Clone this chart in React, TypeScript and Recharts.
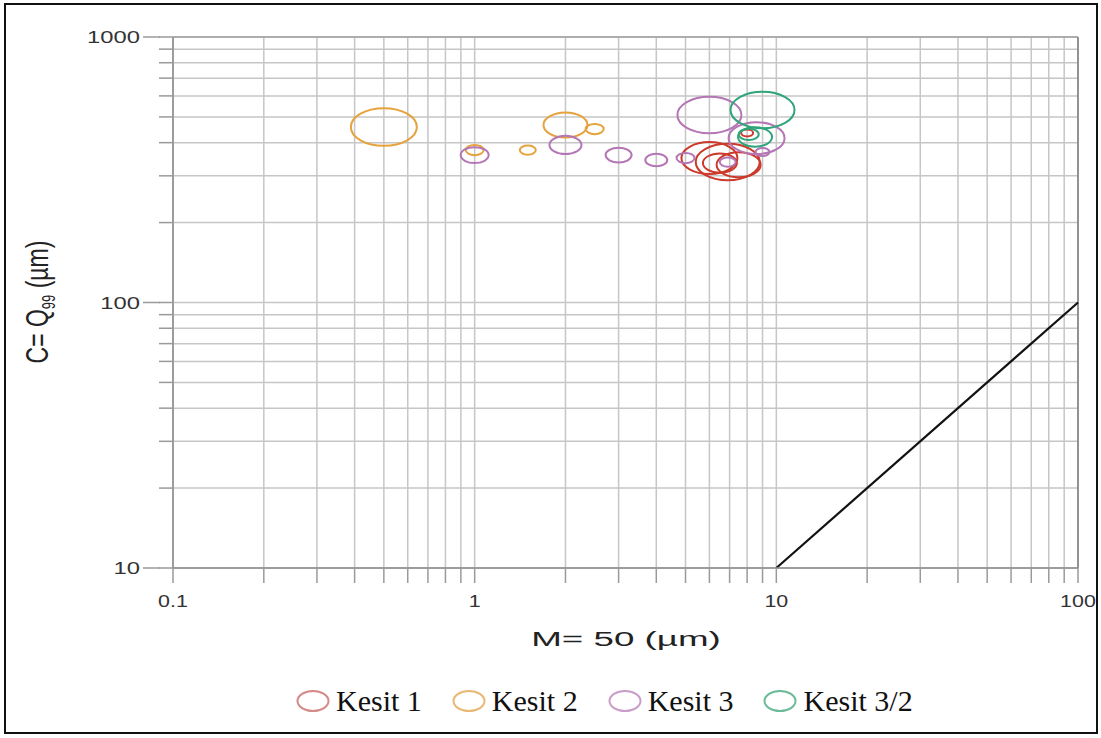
import { ScatterChart, Scatter, XAxis, YAxis, CartesianGrid, ReferenceLine } from 'recharts';

// log axes: every minor step gets a grid line, only decades get a label
const xTicks = [
  0.1, 0.2, 0.3, 0.4, 0.5, 0.6, 0.7, 0.8, 0.9,
  1, 2, 3, 4, 5, 6, 7, 8, 9,
  10, 20, 30, 40, 50, 60, 70, 80, 90, 100,
];
const yTicks = [
  10, 20, 30, 40, 50, 60, 70, 80, 90,
  100, 200, 300, 400, 500, 600, 700, 800, 900, 1000,
];

// M (x), C (y), bubble size
const kesit1 = [
  { x: 6, y: 350, size: 28 },
  { x: 6.9, y: 338, size: 32 },
  { x: 6.5, y: 335, size: 17 },
  { x: 7.5, y: 330, size: 22 },
  { x: 8, y: 435, size: 6 },
];
const kesit2 = [
  { x: 0.5, y: 458, size: 33 },
  { x: 1, y: 375, size: 9 },
  { x: 1.5, y: 375, size: 8 },
  { x: 2, y: 466, size: 22 },
  { x: 2.5, y: 450, size: 9 },
];
const kesit3 = [
  { x: 1, y: 359, size: 14 },
  { x: 2, y: 392, size: 16 },
  { x: 3, y: 359, size: 13 },
  { x: 4, y: 344, size: 11 },
  { x: 5, y: 350, size: 9 },
  { x: 6, y: 508, size: 32 },
  { x: 6.9, y: 338, size: 8 },
  { x: 8.6, y: 416, size: 28 },
  { x: 9, y: 369, size: 7 },
];
const kesit32 = [
  { x: 9, y: 531, size: 32 },
  { x: 8.5, y: 420, size: 17 },
  { x: 8.1, y: 430, size: 10 },
];

const series = [
  { name: 'Kesit 1', data: kesit1, color: '#cc3a2c', light: '#d48a86' },
  { name: 'Kesit 2', data: kesit2, color: '#e6a23c', light: '#e9b874' },
  { name: 'Kesit 3', data: kesit3, color: '#b476b4', light: '#c99ec9' },
  { name: 'Kesit 3/2', data: kesit32, color: '#2fa57a', light: '#6bbb98' },
];

const isDecade = (v: number) => Math.abs(Math.log10(v) - Math.round(Math.log10(v))) < 1e-6;

const bubble = (color: string) => (props: any) => {
  const r = props.payload.size;
  return (
    <ellipse cx={props.cx} cy={props.cy} rx={r} ry={r * 0.57} fill="none" stroke={color} strokeWidth={2} />
  );
};

const XTick = (props: any) => {
  const { x, y, payload } = props;
  if (!isDecade(payload.value)) return <g />;
  return (
    <text
      transform={`translate(${x},${y}) scale(1.3,1)`}
      textAnchor="middle"
      dy={18}
      fontSize={16.5}
      fontFamily="Liberation Sans, Arial, sans-serif"
      fill="#333"
    >
      {String(payload.value)}
    </text>
  );
};

const YTick = (props: any) => {
  const { x, y, payload } = props;
  if (!isDecade(payload.value)) return <g />;
  return (
    <g>
      <line x1={x + 3} x2={x + 20} y1={y} y2={y} stroke="#9a9a9a" strokeWidth={1.5} />
      <text
        transform={`translate(${x},${y}) scale(1.4,1)`}
        textAnchor="end"
        dy={6}
        fontSize={17}
        fontFamily="Liberation Sans, Arial, sans-serif"
        fill="#333"
      >
        {String(payload.value)}
      </text>
    </g>
  );
};

const xLabel = () => (
  <text
    transform="translate(626,646) scale(1.75,1)"
    textAnchor="middle"
    fontSize={21}
    fontFamily="Liberation Sans, Arial, sans-serif"
    fill="#222"
  >
    M= 50  (µm)
  </text>
);

const yLabel = () => (
  <text
    transform="translate(48,302) scale(1.35,1) rotate(-90)"
    textAnchor="middle"
    fontSize={23}
    fontFamily="Liberation Sans, Arial, sans-serif"
    fill="#222"
  >
    C= Q<tspan fontSize={13} dy={5}>99</tspan>
    <tspan dy={-5}> (µm)</tspan>
  </text>
);

export default function App() {
  return (
    <div style={{ position: 'absolute', left: 0, top: 0, width: 1101, height: 738, background: '#fff' }}>
      <ScatterChart width={1101} height={738} margin={{ top: 37, right: 23, bottom: 0, left: 0 }}>
        <CartesianGrid stroke="#c6c6c6" strokeWidth={1.5} />
        <XAxis
          type="number"
          dataKey="x"
          scale="log"
          domain={[0.1, 100]}
          ticks={xTicks}
          interval={0}
          allowDataOverflow
          height={170}
          tickSize={15}
          tickMargin={6}
          tick={<XTick />}
          tickLine={{ stroke: '#9a9a9a', strokeWidth: 1.5 }}
          axisLine={{ stroke: '#8a8a8a', strokeWidth: 1.5 }}
          label={xLabel}
        />
        <YAxis
          type="number"
          dataKey="y"
          scale="log"
          domain={[10, 1000]}
          ticks={yTicks}
          interval={0}
          allowDataOverflow
          width={173}
          tickSize={14}
          tickMargin={19}
          tick={<YTick />}
          tickLine={{ stroke: '#9a9a9a', strokeWidth: 1.5 }}
          axisLine={{ stroke: '#8a8a8a', strokeWidth: 1.5 }}
          label={yLabel}
        />
        <ReferenceLine x={100} stroke="#7c7c7c" strokeWidth={1.5} />
        <ReferenceLine y={1000} stroke="#a0a0a0" strokeWidth={1.5} />
        <ReferenceLine
          segment={[{ x: 10, y: 10 }, { x: 100, y: 100 }]}
          stroke="#111"
          strokeWidth={2.2}
          ifOverflow="visible"
        />
        {series.map((s) => (
          <Scatter
            key={s.name}
            name={s.name}
            data={s.data}
            shape={bubble(s.color)}
            isAnimationActive={false}
          />
        ))}
      </ScatterChart>

      <div
        style={{
          position: 'absolute',
          left: 296,
          top: 684,
          display: 'flex',
          alignItems: 'center',
          gap: 30,
          fontFamily: 'Liberation Serif, Times New Roman, serif',
          fontSize: 30,
          color: '#111',
        }}
      >
        {series.map((s) => (
          <div key={s.name} style={{ display: 'flex', alignItems: 'center', gap: 6 }}>
            <svg width={34} height={24}>
              <ellipse cx={17} cy={12} rx={15.5} ry={10} fill="none" stroke={s.light} strokeWidth={2} />
            </svg>
            <span>{s.name}</span>
          </div>
        ))}
      </div>

      <div
        style={{
          position: 'absolute',
          left: 4,
          top: 3,
          width: 1094,
          height: 731,
          border: '2.5px solid #111',
          boxSizing: 'border-box',
          pointerEvents: 'none',
        }}
      />
    </div>
  );
}
